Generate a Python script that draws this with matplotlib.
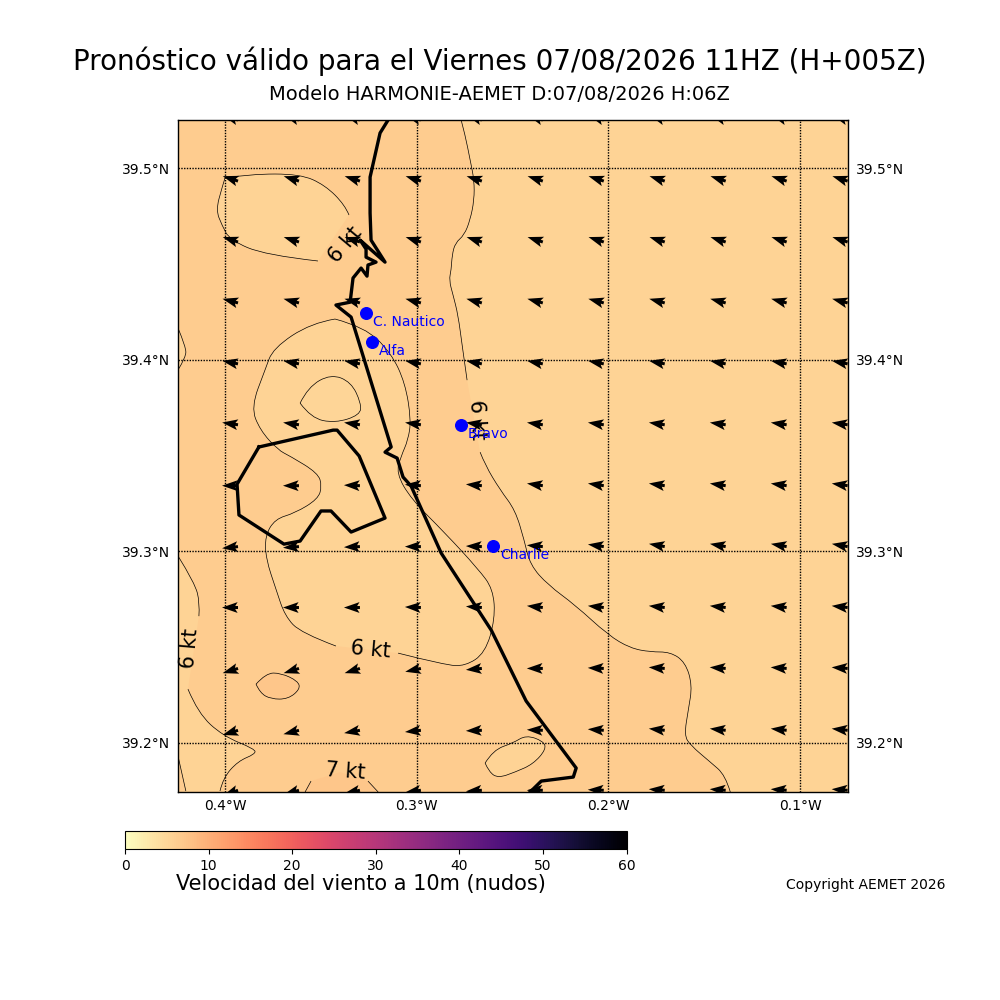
import numpy as np
import matplotlib
matplotlib.use("Agg")
import matplotlib.pyplot as plt
from matplotlib.cm import ScalarMappable
from matplotlib.colors import Normalize
from matplotlib.path import Path
from matplotlib.patches import PathPatch

nan = float("nan")

# Limites del mapa
lon_min, lon_max = -0.4245, -0.0750
lat_min, lat_max = 39.1743, 39.5251

# Meridianos y paralelos
lon_ticks = [-0.4, -0.3, -0.2, -0.1]
lon_labels = ["0.4°W", "0.3°W", "0.2°W", "0.1°W"]
lat_ticks = [39.2, 39.3, 39.4, 39.5]
lat_labels = ["39.2°N", "39.3°N", "39.4°N", "39.5°N"]

# Rejilla de flechas de viento
viento_lon = [-0.3932, -0.3614, -0.3296, -0.2978, -0.2660, -0.2342,
              -0.2024, -0.1706, -0.1388, -0.1070, -0.0752]
viento_lat = [39.5251, 39.4932, 39.4614, 39.4296, 39.3978, 39.3660,
              39.3342, 39.3024, 39.2706, 39.2388, 39.2065, 39.1752]
viento_vel = 6.0
# direccion de la flecha en pantalla (grados), una fila por latitud
viento_dir = [
    [162, 162, 162, 162, 162, 162, 162, 162, 162, 162, 162],
    [162, 162, 162, 162, 162, 162, 162, 162, 162, 162, 162],
    [162, 162, 162, 162, 162, 162, 162, 162, 162, 162, 162],
    [165, 165, 165, 165, 165, 165, 165, 165, 165, 165, 165],
    [169, 169, 169, 169, 169, 169, 169, 169, 169, 169, 169],
    [172, 172, 172, 172, 172, 172, 172, 172, 172, 172, 172],
    [180, 180, 178, 176, 175, 172, 172, 172, 172, 172, 172],
    [186, 184, 182, 180, 178, 175, 172, 170, 170, 170, 170],
    [180, 180, 180, 178, 176, 174, 174, 174, 174, 174, 174],
    [197, 197, 197, 192, 185, 180, 178, 176, 176, 176, 176],
    [197, 194, 190, 186, 182, 178, 176, 174, 174, 174, 174],
    [200, 196, 192, 188, 184, 180, 178, 176, 176, 176, 176],
]

# Velocidad de cada zona (nudos)
vel_claro = 5.6
vel_oscuro = 6.5
vel_centro = 5.2
vel_max = 7.2

# Isotacas: (lon, lat), nan corta la linea donde va la etiqueta
iso_este = [(-0.2768, 39.5251), (-0.2747, 39.5172), (-0.2721, 39.5042), (-0.2700, 39.4937),
            (-0.2700, 39.4833), (-0.2721, 39.4729), (-0.2752, 39.4650), (-0.2799, 39.4609),
            (-0.2815, 39.4546), (-0.2820, 39.4468), (-0.2831, 39.4415), (-0.2810, 39.4337),
            (-0.2784, 39.4233), (-0.2763, 39.4076), (-0.2737, 39.3893), (nan, nan),
            (-0.2669, 39.3517), (-0.2643, 39.3450), (-0.2564, 39.3319), (-0.2486, 39.3215),
            (-0.2439, 39.3058), (-0.2408, 39.2928), (-0.2314, 39.2823), (-0.2173, 39.2719),
            (-0.2001, 39.2562), (-0.1886, 39.2494), (-0.1781, 39.2474), (-0.1677, 39.2474),
            (-0.1599, 39.2421), (-0.1562, 39.2301), (-0.1583, 39.2171), (-0.1604, 39.2040),
            (-0.1573, 39.1988), (-0.1468, 39.1899), (-0.1390, 39.1831), (-0.1364, 39.1743),
            (nan, nan), (lon_min, lat_min), (nan, nan), (lon_min, lat_max)]
iso_norte = [(-0.4000, 39.4948), (-0.3869, 39.4969), (-0.3608, 39.4969), (-0.3478, 39.4911),
             (-0.3374, 39.4807), (-0.3353, 39.4755), (nan, nan), (-0.3515, 39.4515),
             (-0.3791, 39.4546), (-0.3974, 39.4624), (-0.4016, 39.4702), (-0.4047, 39.4781),
             (-0.4016, 39.4896), (-0.4000, 39.4948)]
iso_centro = [(-0.3426, 39.4212), (-0.3551, 39.4191), (-0.3749, 39.4060), (-0.3791, 39.3946),
              (-0.3864, 39.3752), (-0.3817, 39.3632), (-0.3723, 39.3528), (-0.3661, 39.3497),
              (-0.3515, 39.3408), (-0.3494, 39.3340), (-0.3515, 39.3272), (-0.3635, 39.3199),
              (-0.3739, 39.3168), (-0.3791, 39.3079), (-0.3786, 39.2959), (-0.3734, 39.2802),
              (-0.3687, 39.2661), (-0.3603, 39.2573), (-0.3421, 39.2505), (nan, nan),
              (-0.3097, 39.2468), (-0.2852, 39.2406), (-0.2747, 39.2400), (-0.2643, 39.2468),
              (-0.2591, 39.2646), (-0.2601, 39.2802), (-0.2679, 39.2907), (-0.2852, 39.3095),
              (-0.3029, 39.3272), (-0.3107, 39.3408), (-0.3081, 39.3497), (-0.3045, 39.3580),
              (-0.3029, 39.3685), (-0.3060, 39.3878), (-0.3133, 39.4034), (-0.3269, 39.4170),
              (-0.3426, 39.4212)]
iso_interior = [(-0.3608, 39.3773), (-0.3567, 39.3857), (-0.3447, 39.3925), (-0.3342, 39.3883),
                (-0.3290, 39.3773), (-0.3295, 39.3711), (-0.3426, 39.3669), (-0.3551, 39.3695),
                (-0.3608, 39.3773)]
iso_ovalo = [(-0.3838, 39.2306), (-0.3786, 39.2364), (-0.3708, 39.2364), (-0.3619, 39.2322),
             (-0.3608, 39.2280), (-0.3671, 39.2228), (-0.3760, 39.2228), (-0.3817, 39.2260),
             (-0.3838, 39.2306)]
iso_oeste = [(-0.4245, 39.4165), (-0.4204, 39.4066), (-0.4204, 39.4013), (-0.4245, 39.3946)]
iso_suroeste = [(-0.4245, 39.2975), (-0.4157, 39.2834), (-0.4131, 39.2729), (-0.4136, 39.2661),
                (nan, nan), (-0.4193, 39.2280), (-0.4141, 39.2155), (-0.4010, 39.2035),
                (-0.3843, 39.1967), (-0.3843, 39.1941), (-0.3932, 39.1904), (-0.4010, 39.1816),
                (-0.4026, 39.1748), (nan, nan), (lon_min, lat_min)]
iso_esquina = [(-0.4245, 39.1931), (-0.4204, 39.1748), (nan, nan), (lon_min, lat_min)]
iso_sureste = [(-0.2643, 39.1894), (-0.2601, 39.1962), (-0.2497, 39.1999), (-0.2429, 39.2040),
               (-0.2340, 39.2009), (-0.2324, 39.1967), (-0.2392, 39.1889), (-0.2486, 39.1847),
               (-0.2575, 39.1816), (-0.2622, 39.1847), (-0.2643, 39.1894)]
iso_sur = [(-0.3582, 39.1743), (-0.3551, 39.1800), (nan, nan), (-0.3400, 39.1847), (nan, nan),
           (-0.3254, 39.1800), (-0.3201, 39.1743)]

# Costa y albufera
costa = [(-0.3149, 39.5251), (-0.3191, 39.5183), (-0.3243, 39.4953), (-0.3243, 39.4765),
         (-0.3238, 39.4624), (-0.3165, 39.4509), (-0.3295, 39.4624), (-0.3264, 39.4577),
         (-0.3264, 39.4535), (-0.3212, 39.4509), (-0.3254, 39.4494), (-0.3259, 39.4436),
         (-0.3290, 39.4478), (-0.3332, 39.4426), (-0.3347, 39.4300), (-0.3421, 39.4285),
         (-0.3342, 39.4222), (-0.3133, 39.3544), (-0.3165, 39.3517), (-0.3102, 39.3486),
         (-0.3071, 39.3387), (-0.3029, 39.3340), (-0.2872, 39.2990), (-0.2611, 39.2588),
         (-0.2429, 39.2218), (-0.2168, 39.1868), (-0.2183, 39.1821), (-0.2350, 39.1800),
         (-0.2408, 39.1743)]
albufera = [(-0.3823, 39.3544), (-0.3436, 39.3632), (-0.3415, 39.3632), (-0.3300, 39.3497),
            (-0.3165, 39.3173), (-0.3342, 39.3100), (-0.3447, 39.3210), (-0.3499, 39.3210),
            (-0.3608, 39.3053), (-0.3692, 39.3037), (-0.3927, 39.3189), (-0.3937, 39.3350),
            (-0.3823, 39.3544)]

# Puntos de interes
puntos_nombre = ["C. Nautico", "Alfa", "Bravo", "Charlie"]
puntos_lon = [-0.3264, -0.3233, -0.2768, -0.2601]
puntos_lat = [39.4243, 39.4092, 39.3658, 39.3027]

# Etiquetas de las isotacas
etiq_texto = ["6 kt", "6 kt", "6 kt", "6 kt", "7 kt"]
etiq_lon = [-0.3374, -0.2684, -0.4183, -0.3243, -0.3374]
etiq_lat = [39.4598, 39.3685, 39.2494, 39.2484, 39.1852]
etiq_rot = [50, -87, 85, -5, -4]

norm = Normalize(vmin=0, vmax=60)
cmap = plt.get_cmap("magma_r")


def trozos(puntos):
    """Separa la lista de puntos por los nan."""
    salida = [[]]
    for p in puntos:
        if np.isnan(p[0]):
            salida.append([])
        else:
            salida[-1].append(p)
    return salida


def curva(seg, inicio):
    """Vertices y codigos de un trozo, con los puntos como control de curvas."""
    verts = [seg[0]]
    codes = [inicio]
    if len(seg) == 2:
        verts.append(seg[1])
        codes.append(Path.LINETO)
    for i in range(1, len(seg) - 1):
        if i < len(seg) - 2:
            fin = ((seg[i][0] + seg[i + 1][0]) / 2, (seg[i][1] + seg[i + 1][1]) / 2)
        else:
            fin = seg[-1]
        verts += [seg[i], fin]
        codes += [Path.CURVE3, Path.CURVE3]
    return verts, codes


def dibujar_zona(ax, puntos, velocidad):
    """Rellena una zona y traza su isotaca."""
    v_relleno, c_relleno, v_linea, c_linea = [], [], [], []
    for seg in trozos(puntos):
        v, c = curva(seg, Path.LINETO if v_relleno else Path.MOVETO)
        v_relleno += v
        c_relleno += c
        if len(seg) > 1:
            v, c = curva(seg, Path.MOVETO)
            v_linea += v
            c_linea += c
    v_relleno.append(v_relleno[0])
    c_relleno.append(Path.CLOSEPOLY)
    ax.add_patch(PathPatch(Path(v_relleno, c_relleno), facecolor=cmap(norm(velocidad)),
                           edgecolor="none", lw=0, zorder=1))
    ax.add_patch(PathPatch(Path(v_linea, c_linea), facecolor="none", edgecolor="black",
                           lw=0.5, zorder=2))


fig = plt.figure(figsize=(10, 10), dpi=100)
ax = fig.add_axes([0.178, 0.208, 0.670, 0.672])
ax.set_facecolor(cmap(norm(vel_claro)))

# Primero la zona oscura y encima el resto
dibujar_zona(ax, iso_este, vel_oscuro)
dibujar_zona(ax, iso_norte, vel_claro)
dibujar_zona(ax, iso_centro, vel_claro)
dibujar_zona(ax, iso_interior, vel_centro)
dibujar_zona(ax, iso_ovalo, vel_max)
dibujar_zona(ax, iso_oeste, vel_claro)
dibujar_zona(ax, iso_suroeste, vel_claro)
dibujar_zona(ax, iso_esquina, vel_oscuro)
dibujar_zona(ax, iso_sureste, vel_claro)
dibujar_zona(ax, iso_sur, vel_max)

# Flechas
lons, lats = np.meshgrid(viento_lon, viento_lat)
theta = np.radians(np.array(viento_dir, dtype=float))
ax.quiver(lons, lats, viento_vel * np.cos(theta), viento_vel * np.sin(theta),
          angles="uv", units="dots", width=3, scale_units="dots", scale=viento_vel / 16,
          headwidth=3.6, headlength=5.2, headaxislength=4.4, color="black", zorder=4)

# Costa
costa_arr = np.array(costa)
albufera_arr = np.array(albufera)
ax.plot(costa_arr[:, 0], costa_arr[:, 1], color="black", lw=2.4, zorder=5)
ax.plot(albufera_arr[:, 0], albufera_arr[:, 1], color="black", lw=2.4, zorder=5)

# Puntos
ax.scatter(puntos_lon, puntos_lat, s=70, color="blue", zorder=6)
for nombre, lon, lat in zip(puntos_nombre, puntos_lon, puntos_lat):
    ax.annotate(nombre, (lon, lat), xytext=(5, -6.5), textcoords="offset points",
                color="blue", fontsize=10, va="center", ha="left", zorder=7)

for txt, lon, lat, rot in zip(etiq_texto, etiq_lon, etiq_lat, etiq_rot):
    ax.text(lon, lat, txt, fontsize=15, rotation=rot, ha="center", va="center",
            rotation_mode="anchor", zorder=6)

ax.set_xlim(lon_min, lon_max)
ax.set_ylim(lat_min, lat_max)
ax.set_xticks(lon_ticks)
ax.set_xticklabels(lon_labels)
ax.set_yticks(lat_ticks)
ax.set_yticklabels(lat_labels)
ax.tick_params(axis="both", length=0, labelsize=10)
ax.tick_params(axis="y", labelright=True, pad=6)
ax.tick_params(axis="x", pad=5)
ax.grid(True, color="black", lw=1, linestyle=(0, (1, 1)), zorder=3)
ax.set_axisbelow(False)
for lado in ax.spines.values():
    lado.set_linewidth(1)

# Barra de color
cax = fig.add_axes([0.125, 0.151, 0.5015, 0.018])
cb = fig.colorbar(ScalarMappable(norm=norm, cmap=cmap), cax=cax, orientation="horizontal")
cb.set_ticks([0, 10, 20, 30, 40, 50, 60])
cb.ax.tick_params(labelsize=10)

fig.text(0.5, 0.939, "Pronóstico válido para el Viernes 07/08/2026 11HZ (H+005Z)",
         fontsize=20, ha="center", va="center")
fig.text(0.4995, 0.905, "Modelo HARMONIE-AEMET D:07/08/2026 H:06Z",
         fontsize=14, ha="center", va="center")
fig.text(0.3605, 0.116, "Velocidad del viento a 10m (nudos)", fontsize=15, ha="center", va="center")
fig.text(0.786, 0.115, "Copyright AEMET 2026", fontsize=10, ha="left", va="center")

fig.savefig("out.png", dpi=100)
